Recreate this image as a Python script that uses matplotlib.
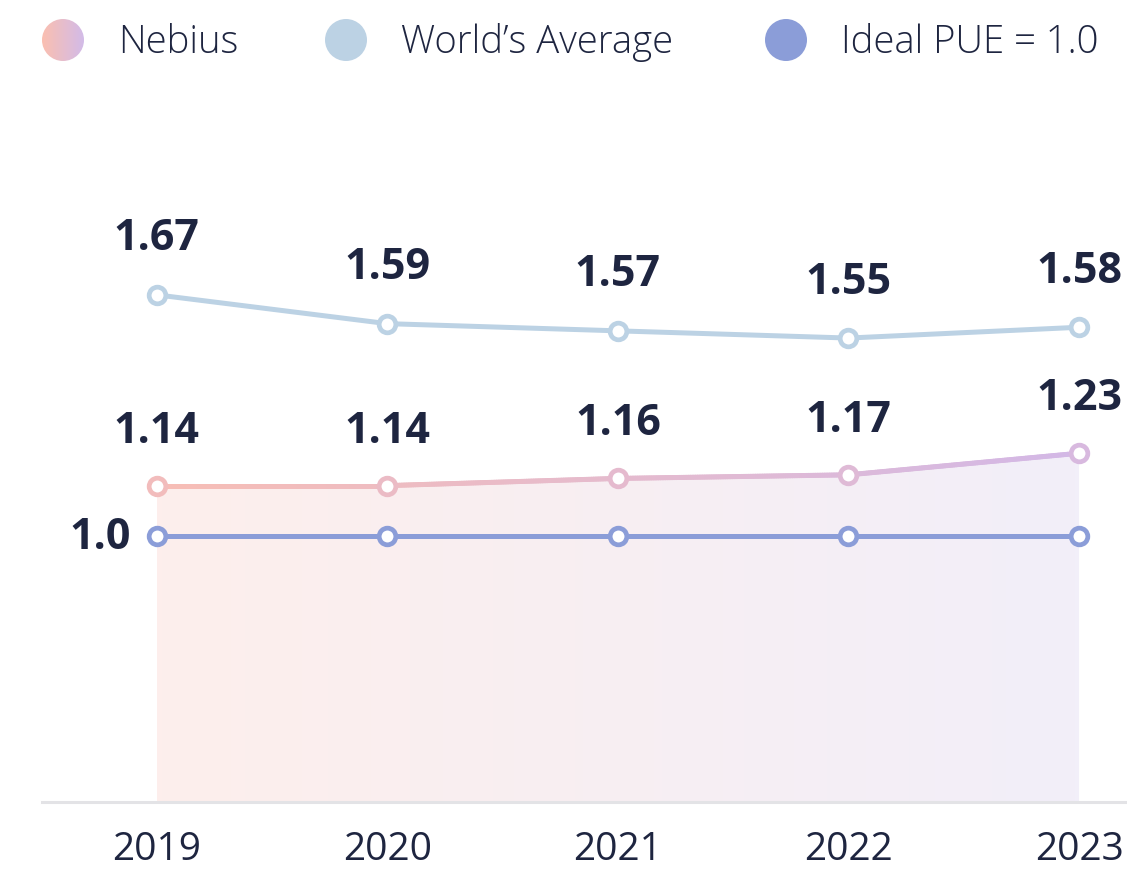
import numpy as np
import matplotlib
matplotlib.use("Agg")
import matplotlib.pyplot as plt
from matplotlib.collections import LineCollection
from matplotlib.colors import LinearSegmentedColormap
from matplotlib.patches import Circle

years = ["2019", "2020", "2021", "2022", "2023"]
nebius = [1.14, 1.14, 1.16, 1.17, 1.23]
world = [1.67, 1.59, 1.57, 1.55, 1.58]
ideal = [1.0, 1.0, 1.0, 1.0, 1.0]

TXT = "#1e2540"
WORLD_C = "#bcd2e4"
IDEAL_C = "#8b9dd8"
neb_cmap = LinearSegmentedColormap.from_list("neb", ["#f7bdb5", "#d3b8e6"])
fill_cmap = LinearSegmentedColormap.from_list("fill", ["#fdeeec", "#f2eff9"])
FONT = "Open Sans"

plt.rcParams["font.family"] = [FONT, "DejaVu Sans"]

fig = plt.figure(figsize=(11.27, 8.70), dpi=100)
ax = fig.add_axes([0.037, 0.077, 0.963, 0.808])
x = np.arange(len(years))
ylo, yhi = 0.261, 2.214
ax.set_xlim(-0.499, 4.208)
ax.set_ylim(ylo, yhi)

# gradient fill under Nebius line
poly = ax.fill_between(x, nebius, ylo, color="none", lw=0)
grad = np.linspace(0, 1, 256).reshape(1, -1)
im = ax.imshow(grad, cmap=fill_cmap, extent=[x[0], x[-1], ylo, max(nebius)],
               aspect="auto", zorder=1, interpolation="bilinear")
im.set_clip_path(poly.get_paths()[0], transform=ax.transData)

lw = 3.6
ms = 12
mew = 3.4

ax.plot(x, world, color=WORLD_C, lw=lw, zorder=3, solid_capstyle="round")
ax.plot(x, world, "o", ms=ms, mfc="white", mec=WORLD_C, mew=mew, zorder=4)

ax.plot(x, ideal, color=IDEAL_C, lw=lw, zorder=3)
ax.plot(x, ideal, "o", ms=ms, mfc="white", mec=IDEAL_C, mew=mew, zorder=4)

# Nebius gradient line
xf = np.linspace(x[0], x[-1], 400)
yf = np.interp(xf, x, nebius)
pts = np.array([xf, yf]).T.reshape(-1, 1, 2)
segs = np.concatenate([pts[:-1], pts[1:]], axis=1)
lc = LineCollection(segs, cmap=neb_cmap, linewidths=lw, zorder=3, capstyle="round")
lc.set_array((xf[:-1] - x[0]) / (x[-1] - x[0]))
ax.add_collection(lc)
for xi, yi in zip(x, nebius):
    ax.plot(xi, yi, "o", ms=ms, mfc="white", mec=neb_cmap(0.15 + 0.7 * xi / x[-1]),
            mew=mew, zorder=4)

# value labels
for xi, yi in zip(x, world):
    ax.annotate(f"{yi:.2f}", (xi, yi), xytext=(0, 41), textcoords="offset points",
                ha="center", va="center", fontsize=31, fontweight="bold", color=TXT)
for xi, yi in zip(x, nebius):
    ax.annotate(f"{yi:.2f}", (xi, yi), xytext=(0, 40), textcoords="offset points",
                ha="center", va="center", fontsize=31, fontweight="bold", color=TXT)
ax.annotate(f"{ideal[0]:.1f}", (x[0], ideal[0]), xytext=(-19, 0), textcoords="offset points",
            ha="right", va="center", fontsize=31, fontweight="bold", color=TXT)

ax.set_xticks(x)
ax.set_xticklabels(years, fontsize=28, color=TXT)
ax.tick_params(axis="x", length=0, pad=20)
ax.set_yticks([])
for s in ["top", "left", "right"]:
    ax.spines[s].set_visible(False)
ax.spines["bottom"].set_color("#e3e3e6")
ax.spines["bottom"].set_linewidth(2.2)

# legend (drawn in pixel space)
lg = fig.add_axes([0, 0, 1, 1], zorder=5)
lg.set_xlim(0, 1127)
lg.set_ylim(870, 0)
lg.axis("off")
r = 21
items = [("Nebius", 63, None), ("World\u2019s Average", 346, WORLD_C), ("Ideal PUE = 1.0", 786, IDEAL_C)]
for label, cx, col in items:
    if col is None:
        circ = Circle((cx, 41), r, facecolor="none", edgecolor="none")
        lg.add_patch(circ)
        gim = lg.imshow(grad, cmap=LinearSegmentedColormap.from_list("lg", ["#fbbfb0", "#d2bbe8"]),
                        extent=[cx - r, cx + r, 41 + r, 41 - r], aspect="auto")
        gim.set_clip_path(circ)
    else:
        lg.add_patch(Circle((cx, 41), r, facecolor=col, edgecolor="none"))
    lg.text(cx + 55, 43, label, fontsize=27.5, color=TXT, va="center", ha="left",
            fontweight="light")
lg.set_xlim(0, 1127)
lg.set_ylim(870, 0)

fig.savefig("out.png", dpi=100)
